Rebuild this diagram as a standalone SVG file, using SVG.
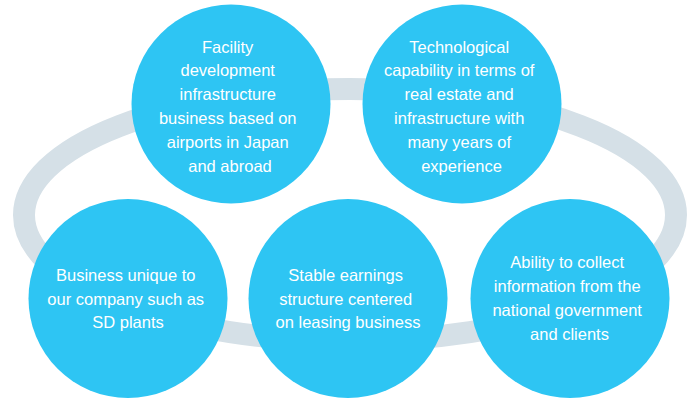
<svg xmlns="http://www.w3.org/2000/svg" width="690" height="398" viewBox="0 0 690 398">
  <style>
    .ring { fill: none; stroke: #d5e0e7; stroke-width: 22; }
    .disc { fill: #2ec5f3; }
    .label { font-family: "Liberation Sans", Arial, sans-serif; font-size: 16.5px; fill: #ffffff; text-anchor: middle; }
  </style>
  <rect width="690" height="398" fill="#ffffff"/>

  <!-- loop linking the strengths -->
  <g id="connectors">
    <ellipse class="ring" cx="350" cy="215" rx="326" ry="126"/>
  </g>

  <g id="node-facility">
    <circle class="disc" cx="231" cy="104" r="99.5"/>
    <text class="label">
      <tspan x="230" y="52.5">Facility</tspan>
      <tspan x="230" y="76.3">development</tspan>
      <tspan x="230" y="100.1">infrastructure</tspan>
      <tspan x="230" y="123.9">business based on</tspan>
      <tspan x="230" y="147.7">airports in Japan</tspan>
      <tspan x="230" y="171.5">and abroad</tspan>
    </text>
  </g>

  <g id="node-technology">
    <circle class="disc" cx="462" cy="104" r="99.5"/>
    <text class="label">
      <tspan x="461.5" y="52.5">Technological</tspan>
      <tspan x="461.5" y="76.3">capability in terms of</tspan>
      <tspan x="461.5" y="100.1">real estate and</tspan>
      <tspan x="461.5" y="123.9">infrastructure with</tspan>
      <tspan x="461.5" y="147.7">many years of</tspan>
      <tspan x="461.5" y="171.5">experience</tspan>
    </text>
  </g>

  <g id="node-unique">
    <circle class="disc" cx="128" cy="298.5" r="99.5"/>
    <text class="label">
      <tspan x="128" y="281">Business unique to</tspan>
      <tspan x="128" y="304.6">our company such as</tspan>
      <tspan x="128" y="328.3">SD plants</tspan>
    </text>
  </g>

  <g id="node-earnings">
    <circle class="disc" cx="348" cy="298.5" r="99.5"/>
    <text class="label">
      <tspan x="348" y="281">Stable earnings</tspan>
      <tspan x="348" y="304.6">structure centered</tspan>
      <tspan x="348" y="328.3">on leasing business</tspan>
    </text>
  </g>

  <g id="node-information">
    <circle class="disc" cx="570" cy="298.5" r="99.5"/>
    <text class="label">
      <tspan x="569.5" y="268.3">Ability to collect</tspan>
      <tspan x="569.5" y="292.1">information from the</tspan>
      <tspan x="569.5" y="315.9">national government</tspan>
      <tspan x="569.5" y="339.7">and clients</tspan>
    </text>
  </g>
</svg>
